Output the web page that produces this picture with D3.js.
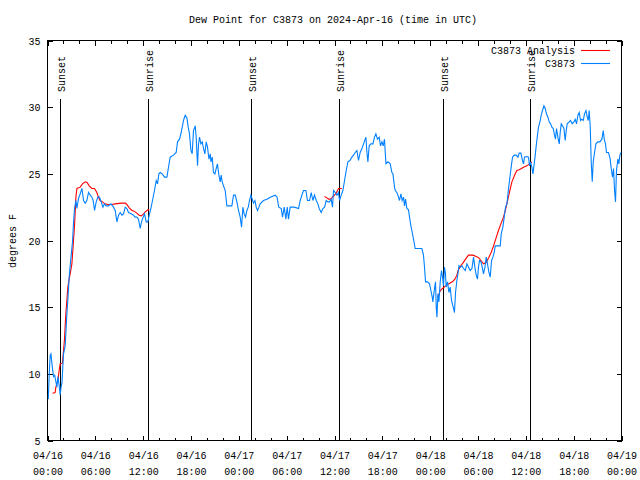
<!DOCTYPE html>
<html>
<head>
<meta charset="utf-8">
<script src="https://cdn.jsdelivr.net/npm/d3@7"></script>
<style>
  html, body { margin: 0; padding: 0; background: #fff; }
  svg { display: block; }
  text { font-family: "Liberation Mono", "DejaVu Sans Mono", monospace; font-size: 10px; fill: #000; }
</style>
</head>
<body>
<svg id="chart" width="640" height="480"></svg>
<script>
// ---------------- DATA ----------------
const titleText = "Dew Point for C3873 on 2024-Apr-16 (time in UTC)";
const yLabelText = "degrees F";
const startUTC = Date.UTC(2024, 3, 16, 0, 0);   // 04/16 00:00 UTC
const spanHours = 72;

const yTicks = [5, 10, 15, 20, 25, 30, 35];
const xTickHours = [0, 6, 12, 18, 24, 30, 36, 42, 48, 54, 60, 66, 72];
const xTickDates = ["04/16","04/16","04/16","04/16","04/17","04/17","04/17","04/17","04/18","04/18","04/18","04/18","04/19"];
const xTickTimes = ["00:00","06:00","12:00","18:00","00:00","06:00","12:00","18:00","00:00","06:00","12:00","18:00","00:00"];

const eventLabels = ["Sunset", "Sunrise", "Sunset", "Sunrise", "Sunset", "Sunrise"];
const eventHours  = [1.53, 12.57, 25.55, 36.55, 49.57, 60.52];

const seriesNames = ["C3873 Analysis", "C3873"];

// C3873 observations (hours since 04/16 00:00 UTC, dew point °F)
const obsHours = [0.10,0.22,0.34,0.43,0.55,0.75,0.90,1.18,1.30,1.45,1.59,1.70,1.81,2.01,2.22,2.43,2.56,2.72,2.97,3.14,3.26,3.39,3.56,3.69,3.89,4.10,4.32,4.52,4.73,4.94,5.14,5.36,5.57,5.73,5.90,6.11,6.32,6.52,6.74,6.95,7.15,7.36,7.65,7.95,8.28,8.49,8.71,8.91,9.12,9.33,9.53,9.75,9.96,10.16,10.50,10.79,11.00,11.21,11.41,11.63,11.79,11.97,12.17,12.38,12.59,12.76,12.97,13.17,13.42,13.64,13.80,13.97,14.14,14.39,14.68,14.98,15.18,15.39,15.81,16.14,16.31,16.56,16.73,16.90,17.06,17.27,17.49,17.65,17.81,17.99,18.15,18.31,18.53,18.65,18.82,18.94,19.07,19.24,19.41,19.57,19.74,19.91,20.07,20.25,20.41,20.50,20.66,20.82,21.00,21.16,21.32,21.50,21.66,21.79,21.91,22.08,22.29,22.50,22.92,23.13,23.33,23.55,23.76,23.96,24.17,24.34,24.51,24.67,24.84,25.01,25.18,25.34,25.51,25.68,25.84,26.02,26.18,26.34,26.52,26.68,27.09,27.52,27.94,28.56,28.80,29.00,29.32,29.48,29.69,29.90,30.07,30.23,30.44,30.95,31.49,31.70,31.91,32.11,32.41,32.61,32.87,33.08,33.29,33.49,33.71,33.92,34.08,34.33,34.55,34.75,34.96,35.17,35.37,35.59,35.75,35.88,36.09,36.30,36.50,36.63,36.84,37.05,37.26,37.47,37.68,37.93,38.18,38.38,38.60,38.81,39.01,39.22,39.51,39.73,39.94,40.07,40.19,40.35,40.57,40.82,41.02,41.19,41.39,41.61,41.77,41.95,42.11,42.27,42.45,42.70,42.99,43.20,43.33,43.53,43.62,43.83,44.03,44.15,44.33,44.49,44.66,44.78,44.91,45.08,45.28,45.41,45.58,45.75,45.91,46.12,46.54,46.96,47.16,47.29,47.42,47.67,47.92,48.09,48.26,48.34,48.51,48.67,48.76,48.85,48.97,49.10,49.26,49.42,49.55,49.67,49.80,49.92,50.01,50.18,50.35,50.51,50.68,50.85,51.05,51.18,51.35,51.48,51.61,51.77,51.98,52.18,52.40,52.61,52.81,53.02,53.24,53.44,53.61,53.78,53.94,54.06,54.19,54.37,54.53,54.69,54.87,55.03,55.19,55.37,55.53,55.70,55.87,56.03,56.16,56.79,56.91,57.12,57.29,57.45,57.63,57.83,58.16,58.33,58.54,58.79,59.01,59.17,59.38,59.58,59.71,59.83,60.13,60.34,60.46,60.59,60.76,60.89,61.18,61.30,61.46,61.59,61.77,61.93,62.09,62.27,62.43,62.59,62.77,62.93,63.10,63.27,63.44,63.60,63.72,63.85,64.02,64.19,64.31,64.44,64.60,64.78,64.94,65.07,65.19,65.44,65.60,65.82,66.03,66.19,66.36,66.53,66.70,66.86,67.03,67.20,67.36,67.54,67.70,67.83,67.95,68.08,68.20,68.33,68.45,68.62,68.79,69.04,69.29,69.54,69.71,69.83,69.99,70.12,70.37,70.58,70.71,70.87,71.00,71.13,71.25,71.37,71.55,71.67,71.80,71.93];
const obsDew = [8.1,10.0,11.4,11.5,10.8,9.8,9.9,9.0,9.8,9.2,8.4,9.0,9.3,11.5,12.1,14.5,15.6,17.3,18.9,19.9,21.3,22.4,23.0,22.4,23.15,23.5,23.9,23.0,22.8,23.0,23.6,23.4,23.25,23.0,22.25,22.9,23.25,23.25,22.9,22.5,22.75,22.6,22.6,22.75,22.5,22.25,21.4,21.9,22.1,21.9,22.0,22.5,22.4,22.1,22.0,21.9,21.75,21.75,21.6,20.9,21.4,21.7,22.0,21.4,21.4,21.9,22.4,23.0,23.75,24.5,24.25,25.0,25.1,25.0,24.75,24.75,25.5,26.25,26.4,26.6,27.4,27.6,28.0,28.5,29.0,29.4,29.2,28.5,28.0,26.75,26.5,28.25,28.6,27.75,25.6,27.2,27.75,27.25,27.4,26.9,26.5,27.4,27.0,26.1,26.5,25.9,26.25,25.1,25.0,25.4,25.75,24.9,24.4,24.9,24.4,24.1,23.75,22.6,22.6,22.6,23.4,23.4,22.9,22.25,21.75,21.0,22.5,22.0,21.75,22.25,22.5,23.0,23.4,23.1,22.8,23.0,22.5,22.25,22.5,22.75,23.0,23.1,23.25,23.4,23.25,22.5,22.4,21.75,22.5,21.6,22.5,21.6,22.5,22.5,22.4,23.0,23.4,23.75,23.75,23.0,23.0,23.6,23.0,23.4,23.0,22.75,22.4,22.1,22.4,22.5,23.0,22.9,22.9,23.1,22.5,23.75,23.6,23.4,23.6,23.0,23.4,23.75,24.5,25.25,25.9,26.0,26.25,26.4,26.6,26.75,26.0,26.6,27.0,27.4,27.75,26.6,25.9,27.1,27.25,27.25,27.75,28.0,27.6,27.75,27.1,27.4,27.1,27.6,25.75,25.9,25.75,25.1,25.0,24.0,23.75,23.6,23.25,23.0,23.5,23.0,23.25,22.6,23.1,22.4,22.3,21.75,21.1,20.6,20.1,19.4,19.4,19.4,18.9,18.0,16.9,16.9,16.75,16.25,15.75,15.4,16.25,16.9,15.0,14.25,16.0,15.4,16.9,17.75,17.25,16.6,18.0,17.5,16.5,16.9,16.1,16.5,15.5,15.1,14.6,16.1,17.0,17.5,18.1,18.0,18.1,17.9,17.75,18.25,18.0,17.75,17.9,18.75,18.0,17.4,17.1,18.0,18.5,18.4,18.0,17.5,18.0,18.75,18.25,17.6,17.25,18.5,18.75,19.1,19.6,19.6,20.5,21.0,21.75,22.5,22.75,23.9,25.5,26.25,26.4,26.4,26.25,26.55,26.55,26.0,25.75,26.25,26.3,26.25,25.6,25.9,25.5,25.0,26.4,27.1,27.9,28.5,28.9,29.4,29.75,30.1,29.9,29.5,29.25,28.9,28.75,28.5,28.4,27.9,27.6,28.4,27.75,27.25,28.1,28.75,28.6,28.4,27.5,28.25,28.75,28.9,29.0,28.75,28.9,29.1,28.75,29.4,29.6,29.0,29.1,29.0,29.5,29.75,29.25,29.0,29.75,28.5,25.9,24.4,25.9,26.6,27.25,27.4,27.4,27.6,28.25,27.6,27.25,26.6,26.6,26.1,25.4,24.75,25.4,23.75,22.9,25.25,26.1,25.75,26.4,26.6];

// C3873 Analysis (null = gap)
const anaHours = [0.63,0.95,1.05,1.30,1.46,1.59,1.87,2.12,2.30,2.55,2.72,2.90,3.06,3.39,3.56,3.69,4.10,4.39,4.73,4.97,5.23,5.57,5.90,6.19,6.39,6.60,6.90,7.20,7.60,8.00,8.50,9.24,9.75,9.95,10.25,10.60,10.86,11.20,11.50,11.75,12.05,12.26,12.59,12.76,
  null,
  34.75,35.05,35.25,35.45,35.65,36.01,36.20,36.38,36.50,36.70,36.92,
  null,
  48.97,49.26,49.55,49.92,50.35,50.77,51.10,51.35,51.48,51.77,52.10,52.43,52.81,53.36,53.78,54.10,54.37,54.69,55.03,55.37,55.65,55.95,56.30,56.57,56.87,57.20,57.53,57.83,58.25,58.67,58.88,59.17,59.71,60.13,60.46,60.76];
const anaDew = [8.55,8.6,9.0,9.5,10.25,10.75,10.8,12.5,14.5,16.5,17.1,17.7,18.25,21.1,23.25,23.9,24.0,24.25,24.4,24.35,24.1,23.9,23.9,23.6,23.25,23.0,22.9,22.75,22.7,22.7,22.75,22.8,22.8,22.7,22.45,22.25,22.2,22.05,21.9,21.85,22.0,22.15,22.3,22.3,
  null,
  23.3,23.2,23.1,23.1,23.2,23.4,23.55,23.75,23.9,23.9,23.9,
  null,
  15.75,16.25,16.4,16.6,16.75,16.9,17.1,17.4,17.7,18.05,18.3,18.6,18.9,18.9,18.8,18.7,18.5,18.25,18.35,18.75,19.1,19.6,20.25,20.75,21.25,21.75,22.5,23.3,24.4,25.0,25.25,25.3,25.5,25.6,25.75,25.9];

// ---------------- CHART ----------------
const svg = d3.select("#chart");
const toDate = h => new Date(startUTC + h * 3600e3);

const L = 47.5, R = 621.5, T = 40.5, B = 440.5;
const x = d3.scaleUtc().domain([toDate(0), toDate(spanHours)]).range([L, R]);
const y = d3.scaleLinear().domain([5, 35]).range([B, T]);

const majorDates = xTickHours.map(toDate);
const minorDates = d3.range(0, spanHours + 0.01, 2).filter(h => h % 6 !== 0).map(toDate);

function styleAxis(g) {
  g.select(".domain").remove();
  g.selectAll("line").attr("stroke", "#000").attr("shape-rendering", "crispEdges");
  g.attr("font-family", null).attr("font-size", null);
}

// bottom axis (major with labels)
const gBottom = svg.append("g").attr("transform", `translate(0,${B})`)
  .call(d3.axisBottom(x).tickValues(majorDates).tickSizeInner(-5).tickSizeOuter(0).tickFormat(""))
  .call(styleAxis);
gBottom.selectAll(".tick").each(function(d, i) {
  const t = d3.select(this).append("text").attr("text-anchor", "middle").attr("fill", "#000");
  t.append("tspan").attr("x", 0).attr("y", 18.5).text(xTickDates[i]);
  t.append("tspan").attr("x", 0).attr("y", 34).text(xTickTimes[i]);
});
svg.append("g").attr("transform", `translate(0,${B})`)
  .call(d3.axisBottom(x).tickValues(minorDates).tickSizeInner(-3).tickSizeOuter(0).tickFormat(""))
  .call(styleAxis);
// top mirror
svg.append("g").attr("transform", `translate(0,${T})`)
  .call(d3.axisTop(x).tickValues(majorDates).tickSizeInner(-5).tickSizeOuter(0).tickFormat(""))
  .call(styleAxis);
svg.append("g").attr("transform", `translate(0,${T})`)
  .call(d3.axisTop(x).tickValues(minorDates).tickSizeInner(-3).tickSizeOuter(0).tickFormat(""))
  .call(styleAxis);
// left axis
const gLeft = svg.append("g").attr("transform", `translate(${L},0)`)
  .call(d3.axisLeft(y).tickValues(yTicks).tickSizeInner(-5).tickSizeOuter(0).tickPadding(7).tickFormat(d3.format("d")))
  .call(styleAxis);
gLeft.selectAll("text").attr("fill", "#000").attr("dy", "0.35em");
// right mirror
svg.append("g").attr("transform", `translate(${R},0)`)
  .call(d3.axisRight(y).tickValues(yTicks).tickSizeInner(-5).tickSizeOuter(0).tickFormat(""))
  .call(styleAxis);

// frame
svg.append("rect").attr("x", L).attr("y", T).attr("width", R - L).attr("height", B - T)
  .attr("fill", "none").attr("stroke", "#000").attr("shape-rendering", "crispEdges");

// sunrise / sunset markers
const ev = svg.append("g");
eventHours.forEach((h, i) => {
  const ex = Math.round(x(toDate(h))) + 0.5;
  ev.append("line").attr("x1", ex).attr("x2", ex).attr("y1", 99).attr("y2", B)
    .attr("stroke", "#000").attr("stroke-width", 1).attr("shape-rendering", "crispEdges");
  ev.append("text").attr("transform", `translate(${ex + 0.5},92) rotate(-90)`)
    .attr("text-anchor", "start").attr("dy", "0.35em").text(eventLabels[i]);
});

// series
const obs = obsHours.map((h, i) => ({ t: toDate(h), v: obsDew[i] }));
const ana = anaHours.map((h, i) => ({ t: h === null ? null : toDate(h), v: anaDew[i] }));
const line = d3.line().defined(d => d.t !== null && d.v !== null).x(d => x(d.t)).y(d => y(d.v));

svg.append("path").datum(ana).attr("d", line)
  .attr("fill", "none").attr("stroke", "#ff0000").attr("stroke-width", 1.1);
svg.append("path").datum(obs).attr("d", line)
  .attr("fill", "none").attr("stroke", "#0080ff").attr("stroke-width", 1.1);

// title and y label
svg.append("text").attr("x", 333).attr("y", 23).attr("text-anchor", "middle").text(titleText);
svg.append("text").attr("transform", "translate(12,241) rotate(-90)")
  .attr("text-anchor", "middle").attr("dy", "0.35em").text(yLabelText);

// legend
const legendColors = ["#ff0000", "#0080ff"];
seriesNames.forEach((name, i) => {
  const ly = 50 + i * 13;
  svg.append("text").attr("x", 575).attr("y", ly).attr("dy", "0.35em").attr("text-anchor", "end").text(name);
  svg.append("line").attr("x1", 581).attr("x2", 610).attr("y1", ly + 0.5).attr("y2", ly + 0.5)
    .attr("stroke", legendColors[i]).attr("stroke-width", 1.1);
});
</script>
</body>
</html>
